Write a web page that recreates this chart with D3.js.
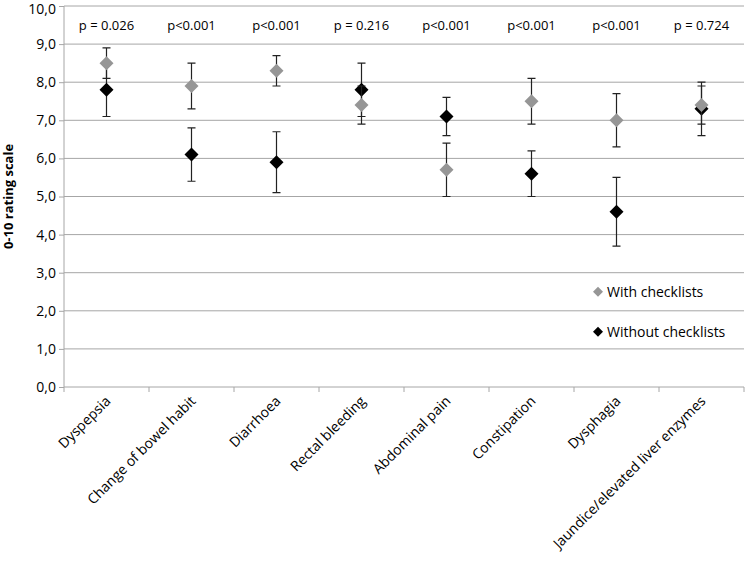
<!DOCTYPE html>
<html lang="en">
<head>
<meta charset="utf-8">
<title>Rating scale</title>
<script src="https://d3js.org/d3.v7.min.js"></script>
<style>
body { margin:0; background:#fff; }
svg text { font-family: "Open Sans", "Liberation Sans", sans-serif; fill:#000; }
.grid line { stroke:#a6a6a6; stroke-width:1; }
.err { stroke:#222; stroke-width:1.2; fill:none; }
</style>
</head>
<body>
<div id="chart"></div>
<script>
var categories = ["Dyspepsia","Change of bowel habit","Diarrhoea","Rectal bleeding",
  "Abdominal pain","Constipation","Dysphagia","Jaundice/elevated liver enzymes"];
var pValues = ["p = 0.026","p<0.001","p<0.001","p = 0.216","p<0.001","p<0.001","p<0.001","p = 0.724"];

var withMean = [8.5, 7.9, 8.3, 7.4, 5.7, 7.5, 7.0, 7.4];
var withLow  = [8.1, 7.3, 7.9, 6.9, 5.0, 6.9, 6.3, 6.9];
var withHigh = [8.9, 8.5, 8.7, 7.9, 6.4, 8.1, 7.7, 8.0];

var withoutMean = [7.8, 6.1, 5.9, 7.8, 7.1, 5.6, 4.6, 7.3];
var withoutLow  = [7.1, 5.4, 5.1, 7.1, 6.6, 5.0, 3.7, 6.6];
var withoutHigh = [8.5, 6.8, 6.7, 8.5, 7.6, 6.2, 5.5, 7.9];

var yTicks = [0,1,2,3,4,5,6,7,8,9,10];

var W = 746, H = 563;
var m = {left:64, right:2, top:6, bottom:176};

var svg = d3.select("#chart").append("svg").attr("width",W).attr("height",H);

var x = d3.scaleBand().domain(categories).range([m.left, W-m.right]);
var y = d3.scaleLinear().domain([0,10]).range([H-m.bottom, m.top]);

// gridlines
svg.append("g").attr("class","grid").selectAll("line").data(yTicks.slice(1)).enter().append("line")
  .attr("x1",m.left).attr("x2",W-m.right)
  .attr("y1",function(d){ return y(d); }).attr("y2",function(d){ return y(d); });

// y axis
var yAxis = d3.axisLeft(y).tickValues(yTicks).tickSize(5).tickPadding(3)
  .tickFormat(function(d){ return d3.format(".1f")(d).replace(".",","); });
var gy = svg.append("g").attr("transform","translate("+m.left+",0)").call(yAxis);
gy.selectAll("line,path").attr("stroke","#a6a6a6");
gy.select(".domain").attr("d","M0,"+y(0)+"V"+y(10));
gy.selectAll("text").style("font-size","14px");
// top label sits against the page edge, nudge it down a little
gy.selectAll(".tick text").filter(function(d){ return d === 10; }).attr("dy","0.5em");

// x axis
var xTicks = categories.map(function(c){ return x(c); }).concat([W-m.right]);
svg.append("line").attr("x1",m.left).attr("x2",W-m.right).attr("y1",y(0)).attr("y2",y(0))
  .attr("stroke","#a6a6a6");
svg.selectAll(".xtick").data(xTicks).enter().append("line").attr("class","xtick")
  .attr("x1",function(d){ return d; }).attr("x2",function(d){ return d; })
  .attr("y1",y(0)).attr("y2",y(0)+5).attr("stroke","#a6a6a6");

svg.selectAll(".xlab").data(categories).enter().append("text").attr("class","xlab")
  .attr("text-anchor","end")
  .style("font-size","14px")
  .attr("transform",function(d){
    var cx = x(d)+x.bandwidth()/2+5, cy = y(0)+15;
    return "translate("+cx+","+cy+") rotate(-45)";
  })
  .text(function(d){ return d; });

// y title
svg.append("text").attr("transform","translate(13,"+y(5)+") rotate(-90)")
  .attr("text-anchor","middle").style("font-size","13px").style("font-weight","bold")
  .text("0-10 rating scale");

// p values
svg.selectAll(".pv").data(pValues).enter().append("text").attr("class","pv")
  .attr("x",function(d,i){ return x(categories[i])+x.bandwidth()/2; })
  .attr("y",y(9.5)+5).attr("text-anchor","middle").style("font-size","13px")
  .text(function(d){ return d; });

function diamond(r){ return "M0,"+(-r)+"L"+r+",0L0,"+r+"L"+(-r)+",0Z"; }

function drawSeries(mean, lo, hi, color){
  var g = svg.append("g");
  var cx = function(i){ return x(categories[i])+x.bandwidth()/2; };
  var cap = 4;
  mean.forEach(function(v,i){
    var px = cx(i);
    g.append("path").attr("class","err")
      .attr("d","M"+px+","+y(lo[i])+"V"+y(hi[i])
        +"M"+(px-cap)+","+y(lo[i])+"H"+(px+cap)
        +"M"+(px-cap)+","+y(hi[i])+"H"+(px+cap));
  });
  g.selectAll(".pt").data(mean).enter().append("path")
    .attr("d",diamond(7))
    .attr("transform",function(d,i){ return "translate("+cx(i)+","+y(d)+")"; })
    .attr("fill",color);
}

drawSeries(withoutMean, withoutLow, withoutHigh, "#000");
drawSeries(withMean, withLow, withHigh, "#969696");

// legend
var legend = [{name:"With checklists", color:"#969696", v:2.5},
              {name:"Without checklists", color:"#000", v:1.45}];
var lg = svg.selectAll(".lg").data(legend).enter().append("g")
  .attr("transform",function(d){ return "translate(598,"+y(d.v)+")"; });
lg.append("path").attr("d",diamond(5)).attr("fill",function(d){ return d.color; });
lg.append("text").attr("x",9).attr("y",5).style("font-size","14px").text(function(d){ return d.name; });
</script>
</body>
</html>
